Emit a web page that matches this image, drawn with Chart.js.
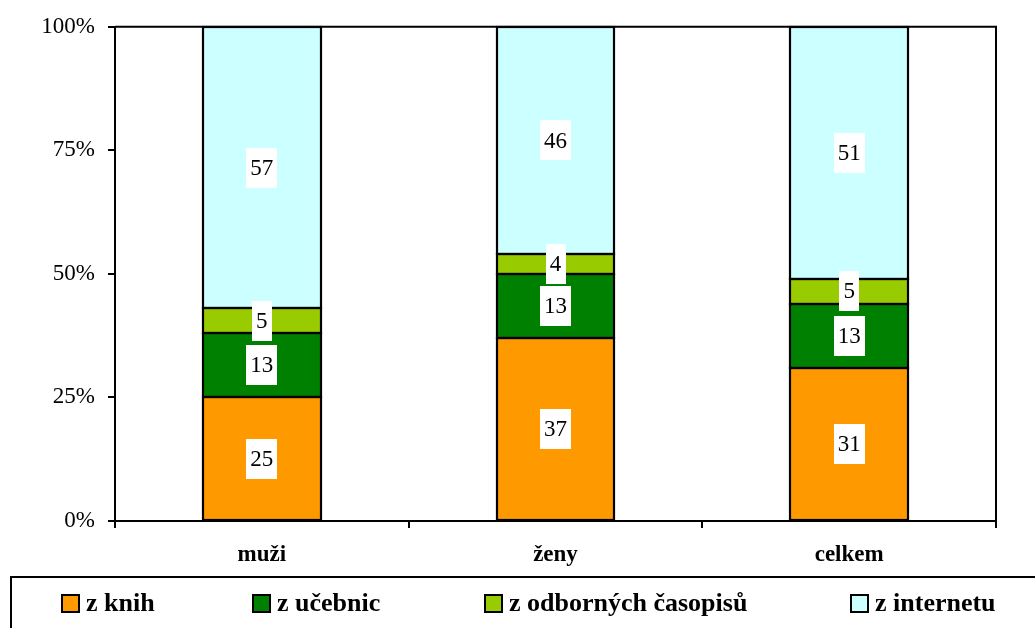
<!DOCTYPE html>
<html>
<head>
<meta charset="utf-8">
<script src="https://cdn.jsdelivr.net/npm/chart.js@4/dist/chart.umd.min.js"></script>
<style>
  html, body { margin: 0; padding: 0; background: #fff; }
  #wrap { width: 1035px; height: 628px; }
</style>
</head>
<body>
<div id="wrap"><canvas id="c" width="1035" height="628"></canvas></div>
<script>
// Groups on the x axis
const categories = ['muži', 'ženy', 'celkem'];

// Share of answers (%) per source
const fromBooks    = [25, 37, 31];
const fromTextbooks = [13, 13, 13];
const fromJournals = [5, 4, 5];
const fromInternet = [57, 46, 51];

const seriesNames = ['z knih', 'z učebnic', 'z odborných časopisů', 'z internetu'];
const seriesColors = ['#FF9900', '#008000', '#99CC00', '#CCFFFF'];

// Y axis ticks
const yTicks = [0, 25, 50, 75, 100];

const SERIF = '"Liberation Serif", "Times New Roman", serif';

const seriesValues = [fromBooks, fromTextbooks, fromJournals, fromInternet];
const datasets = seriesValues.map((vals, i) => ({
  label: seriesNames[i],
  data: vals,
  backgroundColor: seriesColors[i],
  borderWidth: 0,
  categoryPercentage: 1.0,
  barPercentage: 0.4
}));

// Crisp black outlines on every segment, then white value boxes on top
const segmentDecor = {
  id: 'segmentDecor',
  afterDatasetsDraw(chart) {
    const ctx = chart.ctx;
    ctx.save();
    ctx.strokeStyle = '#000';
    ctx.lineWidth = 2.2;
    chart.data.datasets.forEach((ds, di) => {
      chart.getDatasetMeta(di).data.forEach(bar => {
        const l = Math.round(bar.x - bar.width / 2);
        const r = Math.round(bar.x + bar.width / 2);
        const t = Math.round(bar.y);
        const b = Math.round(bar.base);
        ctx.strokeRect(l, t, r - l, b - t);
      });
    });

    ctx.font = '23px ' + SERIF;
    ctx.textAlign = 'center';
    ctx.textBaseline = 'middle';
    chart.data.datasets.forEach((ds, di) => {
      chart.getDatasetMeta(di).data.forEach((bar, i) => {
        const txt = String(ds.data[i]);
        const cx = bar.x;
        const cy = (bar.y + bar.base) / 2;
        const w = ctx.measureText(txt).width + 8;
        const h = 40;
        ctx.fillStyle = '#fff';
        ctx.fillRect(Math.round(cx - w / 2), Math.round(cy - h / 2), Math.round(w), h);
        ctx.fillStyle = '#000';
        ctx.fillText(txt, cx, cy + 1);
      });
    });
    ctx.restore();
  }
};

// Frame around the plot area and the legend strip beneath the chart
const frameAndLegend = {
  id: 'frameAndLegend',
  afterDraw(chart) {
    const ctx = chart.ctx;
    const a = chart.chartArea;
    ctx.save();
    ctx.strokeStyle = '#000';
    ctx.lineWidth = 2;
    ctx.beginPath();
    ctx.moveTo(a.left, a.top);
    ctx.lineTo(a.right, a.top);
    ctx.lineTo(a.right, a.bottom);
    ctx.stroke();

    // legend box
    ctx.strokeRect(11, 577, 1100, 100);

    const itemX = [62, 253, 485, 851];
    const cy = 603;
    ctx.font = 'bold 26px ' + SERIF;
    ctx.textAlign = 'left';
    ctx.textBaseline = 'middle';
    chart.data.datasets.forEach((ds, i) => {
      const x = itemX[i];
      ctx.fillStyle = ds.backgroundColor;
      ctx.fillRect(x, cy - 8, 17, 17);
      ctx.lineWidth = 2;
      ctx.strokeStyle = '#000';
      ctx.strokeRect(x, cy - 8, 17, 17);
      ctx.fillStyle = '#000';
      ctx.fillText(ds.label, x + 24, cy + 1);
    });
    ctx.restore();
  }
};

new Chart(document.getElementById('c'), {
  type: 'bar',
  data: { labels: categories, datasets },
  options: {
    responsive: false,
    animation: false,
    layout: { padding: { top: 25, right: 39, bottom: 0, left: 0 } },
    plugins: {
      legend: { display: false },
      tooltip: { enabled: false }
    },
    scales: {
      x: {
        stacked: true,
        offset: true,
        grid: {
          offset: true,
          drawOnChartArea: false,
          drawTicks: true,
          tickLength: 7,
          color: '#000',
          lineWidth: 2
        },
        border: { display: true, color: '#000', width: 2 },
        ticks: {
          color: '#000',
          padding: 13,
          font: { family: SERIF, size: 23, weight: 'bold' }
        },
        afterFit(scale) { scale.height = 107; }
      },
      y: {
        stacked: true,
        min: 0,
        max: 100,
        afterBuildTicks(scale) { scale.ticks = yTicks.map(v => ({ value: v })); },
        grid: {
          drawOnChartArea: false,
          drawTicks: true,
          tickLength: 7,
          color: '#000',
          lineWidth: 2
        },
        border: { display: true, color: '#000', width: 2 },
        ticks: {
          color: '#000',
          padding: 13,
          font: { family: SERIF, size: 23 },
          callback: v => v + '%'
        },
        afterFit(scale) { scale.width = 115; }
      }
    }
  },
  plugins: [segmentDecor, frameAndLegend]
});
</script>
</body>
</html>
